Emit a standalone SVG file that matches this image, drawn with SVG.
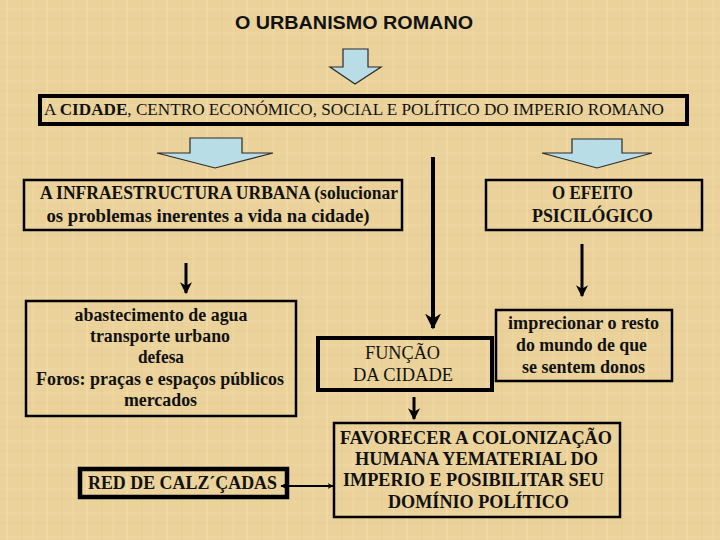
<svg xmlns="http://www.w3.org/2000/svg" width="720" height="540" viewBox="0 0 720 540">
<defs>
<pattern id="paper" width="40" height="24" patternUnits="userSpaceOnUse">
<rect width="40" height="24" fill="#EAD29A"/>
<line x1="7" y1="0" x2="7" y2="24" stroke="#F3E2B4" stroke-width="1.2" opacity="0.7"/>
<line x1="22" y1="0" x2="22" y2="24" stroke="#DCC188" stroke-width="0.8" opacity="0.6"/>
<line x1="33" y1="0" x2="33" y2="24" stroke="#F3E2B4" stroke-width="0.8" opacity="0.6"/>
<line x1="0" y1="9" x2="40" y2="9" stroke="#F2E0B0" stroke-width="1" opacity="0.5"/>
<line x1="0" y1="19" x2="40" y2="19" stroke="#DCC38B" stroke-width="0.8" opacity="0.5"/>
</pattern>
<marker id="ah" viewBox="0 0 10 10" refX="9" refY="5" markerWidth="4" markerHeight="4" orient="auto" markerUnits="strokeWidth">
<path d="M0,0 L10,5 L0,10 L3,5 z" fill="#000"/>
</marker>
<marker id="ahs" viewBox="0 0 10 10" refX="9" refY="5" markerWidth="3" markerHeight="3" orient="auto-start-reverse" markerUnits="strokeWidth">
<path d="M0,0 L10,5 L0,10 L3,5 z" fill="#000"/>
</marker>
</defs>
<style>
.t{font-family:'Liberation Serif','Times New Roman',Times,serif;font-size:18px;fill:#111;}
.s16{font-size:16px;}
.b{font-weight:bold;}
.box{fill:none;stroke:#000;}
.blk{fill:#B9DDE6;stroke:#2a2a2a;stroke-width:1.2;}
.ln{stroke:#000;fill:none;}
</style>
<rect width="720" height="540" fill="url(#paper)"/>

<text x="354" y="29" text-anchor="middle" font-family="Liberation Sans, Arial, sans-serif" font-weight="bold" font-size="18" fill="#111" textLength="238" lengthAdjust="spacingAndGlyphs">O URBANISMO ROMANO</text>

<g id="connectors">
<path class="blk" d="M343,49 H368 V67 H381 L355,84 L330,67 H343 Z"/>
<path class="blk" d="M190,138 H242 V153 H273 L215,168 L157,153 H190 Z"/>
<path class="blk" d="M572,139 H622 V153 H652 L597,168 L542,153 H572 Z"/>
<line class="ln" x1="186" y1="263" x2="186" y2="293" stroke-width="3" marker-end="url(#ah)"/>
<line class="ln" x1="433" y1="157" x2="433" y2="328" stroke-width="4" marker-end="url(#ah)"/>
<line class="ln" x1="582" y1="244" x2="582" y2="296" stroke-width="3" marker-end="url(#ah)"/>
<line class="ln" x1="414" y1="397" x2="414" y2="419" stroke-width="3" marker-end="url(#ah)"/>
<line class="ln" x1="281" y1="486" x2="333" y2="486" stroke-width="2" marker-start="url(#ahs)" marker-end="url(#ahs)"/>
</g>

<g id="cidade">
<rect class="box" x="40" y="96" width="647" height="28" stroke-width="4"/>
<text class="t s16" x="44" y="115" textLength="620" lengthAdjust="spacingAndGlyphs">A <tspan class="b">CIDADE</tspan>, CENTRO ECONÓMICO, SOCIAL E POLÍTICO DO IMPERIO ROMANO</text>
</g>

<g id="infra">
<rect class="box" x="24" y="180" width="378" height="50" stroke-width="2.5"/>
<text class="t b" x="219" y="199" text-anchor="middle" textLength="358" lengthAdjust="spacingAndGlyphs">A INFRAESTRUCTURA URBANA (solucionar</text>
<text class="t b" x="208" y="222" text-anchor="middle" textLength="323" lengthAdjust="spacingAndGlyphs">os problemas inerentes a vida na cidade)</text>
</g>

<g id="efeito">
<rect class="box" x="486" y="180" width="216" height="50" stroke-width="2.5"/>
<text class="t b" x="592.5" y="199" text-anchor="middle" textLength="81" lengthAdjust="spacingAndGlyphs">O EFEITO</text>
<text class="t b" x="592.5" y="222" text-anchor="middle" textLength="121" lengthAdjust="spacingAndGlyphs">PSICILÓGICO</text>
</g>

<g id="abastecimento">
<rect class="box" x="26" y="301" width="270" height="115" stroke-width="2.5"/>
<text class="t b" x="161" y="321" text-anchor="middle" textLength="173" lengthAdjust="spacingAndGlyphs">abastecimento de agua</text>
<text class="t b" x="160" y="342" text-anchor="middle" textLength="140" lengthAdjust="spacingAndGlyphs">transporte urbano</text>
<text class="t b" x="161" y="363" text-anchor="middle" textLength="46" lengthAdjust="spacingAndGlyphs">defesa</text>
<text class="t b" x="160" y="385" text-anchor="middle" textLength="248" lengthAdjust="spacingAndGlyphs">Foros: praças e espaços públicos</text>
<text class="t b" x="160.5" y="406" text-anchor="middle" textLength="73" lengthAdjust="spacingAndGlyphs">mercados</text>
</g>

<g id="funcao">
<rect class="box" x="318" y="338" width="174" height="52" stroke-width="4"/>
<text class="t" x="402.5" y="359" text-anchor="middle" textLength="75" lengthAdjust="spacingAndGlyphs">FUNÇÃO</text>
<text class="t" x="403" y="381" text-anchor="middle" textLength="100" lengthAdjust="spacingAndGlyphs">DA CIDADE</text>
</g>

<g id="imprecionar">
<rect class="box" x="496" y="310" width="176" height="71" stroke-width="2.5"/>
<text class="t b" x="583.5" y="329" text-anchor="middle" textLength="151" lengthAdjust="spacingAndGlyphs">imprecionar o resto</text>
<text class="t b" x="581.5" y="351" text-anchor="middle" textLength="131" lengthAdjust="spacingAndGlyphs">do mundo de que</text>
<text class="t b" x="583.5" y="373" text-anchor="middle" textLength="123" lengthAdjust="spacingAndGlyphs">se sentem donos</text>
</g>

<g id="favorecer">
<rect class="box" x="334" y="423" width="286" height="94" stroke-width="2.5"/>
<text class="t b" x="476" y="444" text-anchor="middle" textLength="272" lengthAdjust="spacingAndGlyphs">FAVORECER A COLONIZAÇÃO</text>
<text class="t b" x="476.5" y="465" text-anchor="middle" textLength="243" lengthAdjust="spacingAndGlyphs">HUMANA YEMATERIAL DO</text>
<text class="t b" x="473.5" y="486" text-anchor="middle" textLength="261" lengthAdjust="spacingAndGlyphs">IMPERIO E POSIBILITAR SEU</text>
<text class="t b" x="478.5" y="508" text-anchor="middle" textLength="181" lengthAdjust="spacingAndGlyphs">DOMÍNIO POLÍTICO</text>
</g>

<g id="red">
<rect class="box" x="80" y="469" width="207" height="28" stroke-width="4.5"/>
<text class="t b" x="88" y="489" textLength="189" lengthAdjust="spacingAndGlyphs">RED DE CALZ´ÇADAS</text>
</g>
</svg>
